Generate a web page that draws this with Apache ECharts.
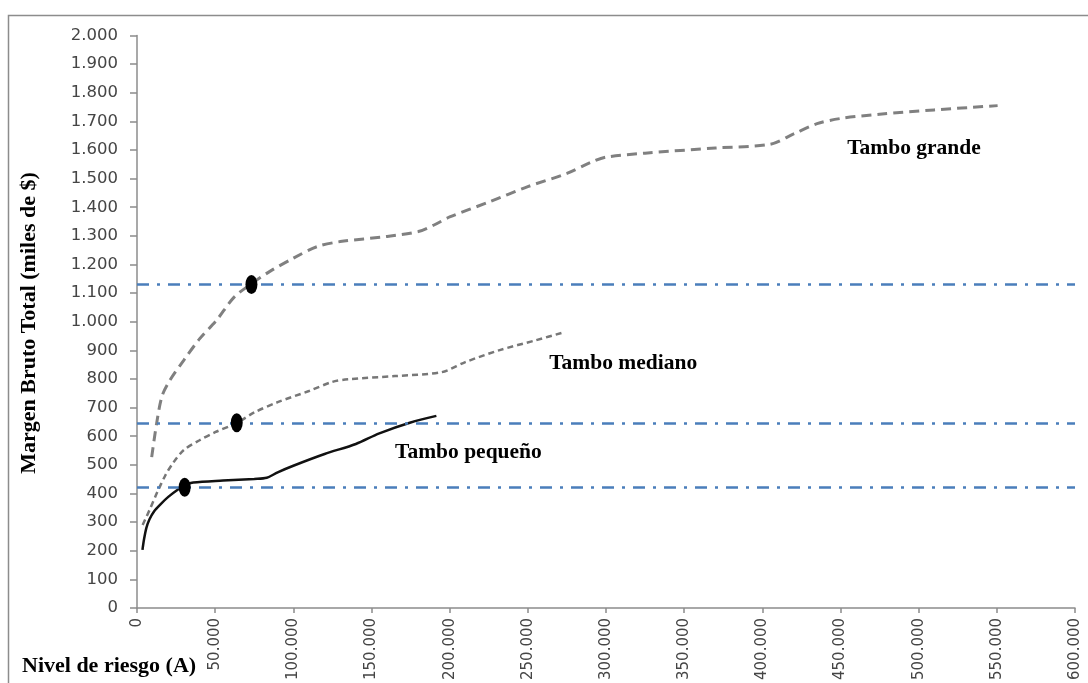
<!DOCTYPE html>
<html>
<head>
<meta charset="utf-8">
<script src="https://cdn.jsdelivr.net/npm/echarts@6/dist/echarts.min.js"></script>
<style>
  html, body { margin: 0; padding: 0; background: #fff; }
  #chart { width: 1088px; height: 683px; }
</style>
</head>
<body>
<div id="chart"></div>
<script>
// Nivel de riesgo (A) vs Margen Bruto Total (miles de $)
const tamboGrande = [
  [9400, 527], [12600, 646], [16000, 740], [21000, 795], [30000, 866],
  [40000, 940], [51000, 1006], [62000, 1085], [73000, 1132], [85000, 1176],
  [100000, 1222], [115000, 1262], [130000, 1280], [160000, 1298], [180000, 1315],
  [190000, 1338], [200000, 1366], [225000, 1418], [250000, 1472], [275000, 1518],
  [290000, 1556], [300000, 1575], [325000, 1589], [370000, 1607], [405000, 1620],
  [420000, 1656], [435000, 1692], [450000, 1710], [475000, 1725], [510000, 1740],
  [550500, 1755]
];
const tamboMediano = [
  [3600, 290], [8000, 342], [13000, 405], [18000, 462], [23000, 506],
  [30000, 552], [40000, 586], [50000, 614], [64000, 647], [75000, 683],
  [90000, 719], [110000, 758], [125000, 790], [135000, 799], [165000, 810],
  [195000, 824], [210000, 859], [232000, 901], [255000, 935], [273500, 964]
];
const tamboPequeno = [
  [3500, 203], [4500, 240], [6000, 280], [8000, 310], [11000, 338],
  [15000, 362], [20000, 388], [26000, 413], [31000, 430], [36000, 438],
  [55000, 445], [75000, 451], [83000, 455], [90000, 474], [100000, 497],
  [120000, 538], [140000, 573], [155000, 610], [175000, 648], [191500, 671]
];
// Niveles de margen de referencia y puntos marcados sobre cada curva
const referenceLevels = [1130, 647, 422];
const markedPoints = [[73200, 1130], [63800, 647], [30500, 422]];
// Etiquetas de las curvas: [x, y, texto]
const curveLabels = [
  [497000, 1607, 'Tambo grande'],
  [311000, 856, 'Tambo mediano'],
  [212000, 545, 'Tambo pequeño']
];
const xTicks = { min: 0, max: 600000, interval: 50000 };
const yTicks = { min: 0, max: 2000, interval: 100 };

const fmt = v => String(Math.round(v)).replace(/\B(?=(\d{3})+(?!\d))/g, '.');
const serif = '"Liberation Serif", "Times New Roman", serif';
const ellipse = 'path://M50,0A50,50 0 1,1 50,100A50,50 0 1,1 50,0Z';

const chart = echarts.init(document.getElementById('chart'), null, { renderer: 'canvas' });
chart.setOption({
  animation: false,
  backgroundColor: '#ffffff',
  grid: { left: 137, right: 13, top: 35.5, bottom: 75, containLabel: false },
  xAxis: {
    type: 'value', min: xTicks.min, max: xTicks.max, interval: xTicks.interval,
    splitLine: { show: false },
    axisLine: { show: true, onZero: false, lineStyle: { color: '#8c8c8c', width: 1.5 } },
    axisTick: { show: true, length: 5, lineStyle: { color: '#8c8c8c', width: 1.5 } },
    axisLabel: {
      rotate: 90, margin: 10, color: '#454545',
      fontFamily: '"DejaVu Sans", Verdana, sans-serif', fontSize: 15,
      formatter: fmt
    }
  },
  yAxis: {
    type: 'value', min: yTicks.min, max: yTicks.max, interval: yTicks.interval,
    splitLine: { show: false },
    axisLine: { show: true, lineStyle: { color: '#8c8c8c', width: 1.5 } },
    axisTick: { show: true, length: 7, lineStyle: { color: '#8c8c8c', width: 1.5 } },
    axisLabel: {
      margin: 19, color: '#454545',
      fontFamily: '"DejaVu Sans", Verdana, sans-serif', fontSize: 16.5,
      formatter: fmt
    }
  },
  graphic: [
    {
      type: 'rect', silent: true, z: -1,
      shape: { x: 8.5, y: 15.5, width: 1100, height: 700 },
      style: { fill: 'none', stroke: '#8c8c8c', lineWidth: 1.5 }
    },
    {
      type: 'text', left: 22, top: 655,
      style: { text: 'Nivel de riesgo (A)', font: 'bold 22px ' + serif, fill: '#000' }
    },
    {
      type: 'text', x: 29, y: 323, rotation: Math.PI / 2,
      style: {
        text: 'Margen Bruto Total (miles de $)', font: 'bold 22px ' + serif,
        fill: '#000', align: 'center', verticalAlign: 'middle'
      }
    }
  ],
  series: [
    {
      name: 'Tambo grande', type: 'line', data: tamboGrande,
      smooth: 0.3, showSymbol: false,
      lineStyle: { color: '#808080', width: 3, type: [10, 6] }, z: 3
    },
    {
      name: 'Tambo mediano', type: 'line', data: tamboMediano,
      smooth: 0.3, showSymbol: false,
      lineStyle: { color: '#777777', width: 2.5, type: [6, 4] }, z: 3
    },
    {
      name: 'Tambo pequeño', type: 'line', data: tamboPequeno,
      smooth: 0.3, showSymbol: false,
      lineStyle: { color: '#111111', width: 2.5 }, z: 3
    },
    {
      name: 'referencias', type: 'line', data: [], z: 2,
      markLine: {
        silent: true, symbol: 'none', label: { show: false },
        lineStyle: { color: '#4a7ebb', width: 2.5, type: [12, 8, 3, 8] },
        data: referenceLevels.map(v => ({ yAxis: v }))
      }
    },
    {
      name: 'puntos', type: 'scatter', data: markedPoints, z: 5,
      symbol: ellipse, symbolSize: [12, 19],
      itemStyle: { color: '#000000', opacity: 1 }
    },
    {
      name: 'etiquetas', type: 'scatter', z: 4,
      data: curveLabels.map(d => ({ value: [d[0], d[1]], name: d[2] })),
      symbolSize: 0,
      itemStyle: { opacity: 1 },
      label: {
        show: true, position: 'inside', formatter: p => p.name,
        fontFamily: serif, fontWeight: 'bold', fontSize: 21.5, color: '#000', opacity: 1
      }
    }
  ]
});
</script>
</body>
</html>
